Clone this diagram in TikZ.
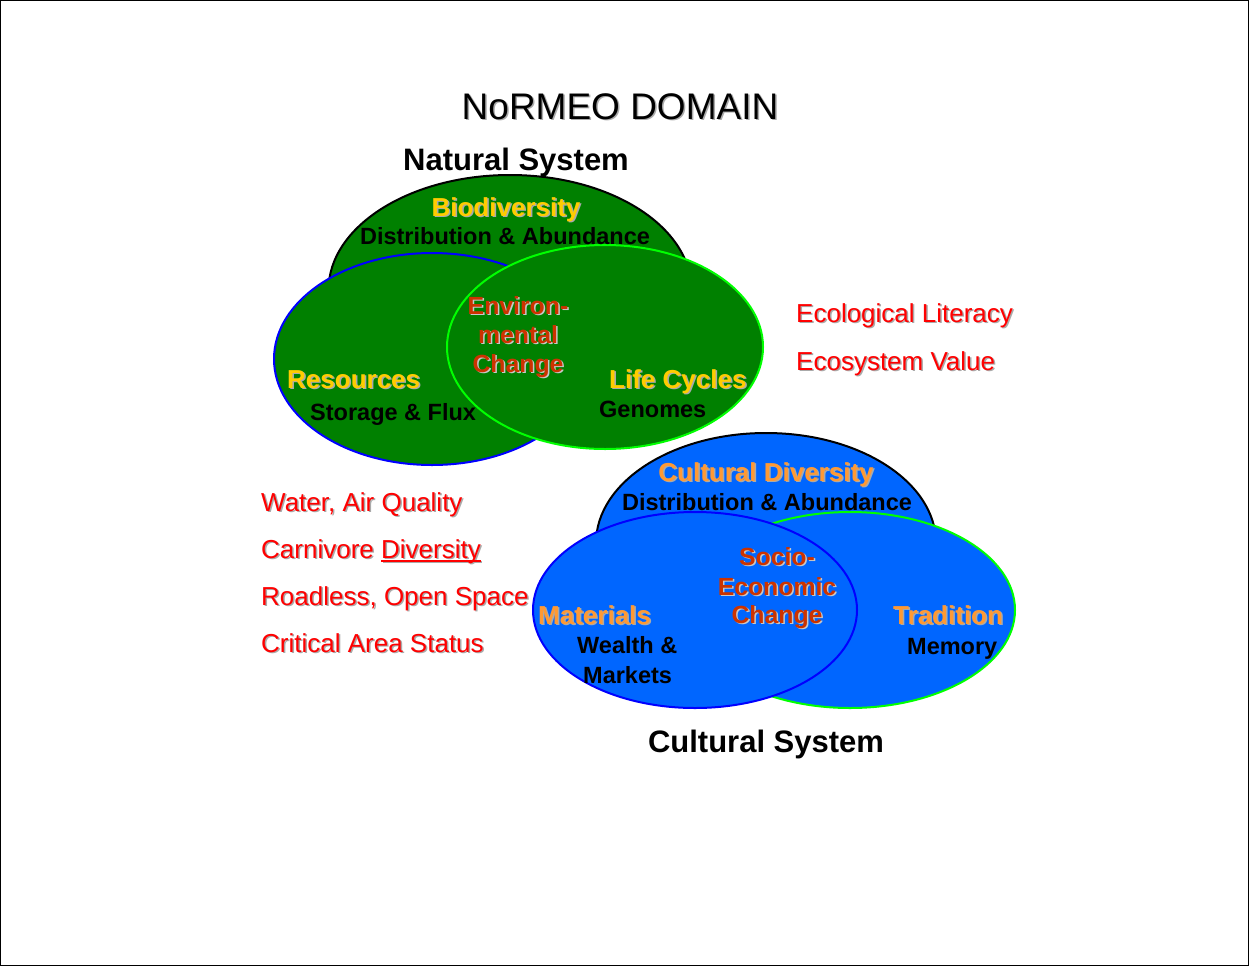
\documentclass[tikz,border=0pt]{standalone}
\usepackage{fontspec}
\setmainfont{Liberation Sans}
\usetikzlibrary{shapes.geometric}

\definecolor{natgreen}{RGB}{0,128,0}
\definecolor{culblue}{RGB}{0,102,255}
\definecolor{gold}{RGB}{255,204,0}
\definecolor{culorange}{RGB}{255,153,51}
\definecolor{changered}{RGB}{204,51,0}
\definecolor{listred}{RGB}{255,0,0}
\definecolor{limeline}{RGB}{0,255,0}
\definecolor{blueline}{RGB}{0,0,255}
\definecolor{shadowgray}{RGB}{170,170,170}
\definecolor{lightshadow}{RGB}{200,200,200}

% text with a soft drop shadow: name, position, style, text
\newcommand{\shadowtext}[4]{%
  \node[#3, text=shadowgray, xshift=1.5pt, yshift=-1.5pt] at #2 {#4};
  \node[#3] (#1) at #2 {#4};}
\newcommand{\lightshadowtext}[4]{%
  \node[#3, text=lightshadow, xshift=1.5pt, yshift=-1.5pt] at #2 {#4};
  \node[#3] (#1) at #2 {#4};}
% underlined word with a thicker rule
\newcommand{\thickul}[1]{\setbox0\hbox{#1}\rlap{\rule[-3.5pt]{\wd0}{1.8pt}}#1}

\begin{document}
\begin{tikzpicture}[x=1pt,y=-1pt,
  venn/.style={ellipse, draw, line width=2pt, inner sep=0pt},
  bigtitle/.style={anchor=base, inner sep=0pt, font=\fontsize{37}{40}\selectfont},
  systitle/.style={anchor=base, inner sep=0pt, font=\bfseries\fontsize{31}{34}\selectfont},
  head/.style={inner sep=0pt, font=\bfseries\fontsize{26}{30}\selectfont},
  sub/.style={inner sep=0pt, font=\bfseries\fontsize{23.5}{28}\selectfont},
  change/.style={anchor=base, inner sep=0pt, text=changered, font=\bfseries\fontsize{24.8}{29}\selectfont},
  redlist/.style={anchor=base west, inner sep=0pt, text=listred, font=\fontsize{26}{30}\selectfont}]

\useasboundingbox (0,0) rectangle (1249,966);
\draw[line width=1pt] (0.5,0.5) rectangle (1248.5,965.5);

% ---- Natural system ----
\node[venn, fill=natgreen, draw=black, minimum width=363pt, minimum height=230pt] (bio) at (510,290) {};
\node[venn, fill=natgreen, draw=blueline, minimum width=316pt, minimum height=212pt] (res) at (432,359) {};
\node[venn, fill=natgreen, draw=limeline, minimum width=316pt, minimum height=204pt] (life) at (605,347) {};

% ---- Cultural system ----
\node[venn, fill=culblue, draw=black, minimum width=340pt, minimum height=220pt] (cul) at (766,543) {};
\node[venn, fill=culblue, draw=limeline, minimum width=330pt, minimum height=196pt] (trad) at (850,610) {};
\node[venn, fill=culblue, draw=blueline, minimum width=324pt, minimum height=196pt] (mat) at (695,610) {};

% ---- Titles ----
\shadowtext{domain}{(620,119)}{bigtitle}{NoRMEO DOMAIN}
\node[systitle] (natsys) at (516,170) {Natural System};
\node[systitle] (culsys) at (766,752) {Cultural System};

% ---- Natural labels ----
\shadowtext{biohead}{(506,216)}{head, anchor=base, text=gold}{Biodiversity}
\node[sub, anchor=base] (biosub) at (505,244) {Distribution \& Abundance};
\lightshadowtext{env1}{(518,314)}{change}{Environ-}
\lightshadowtext{env2}{(518,343)}{change}{mental}
\lightshadowtext{env3}{(518,372)}{change}{Change}
\shadowtext{reshead}{(287,388)}{head, anchor=base west, text=gold}{Resources}
\node[sub, anchor=base west] (ressub) at (310,420) {Storage \& Flux};
\shadowtext{lifehead}{(609,388)}{head, anchor=base west, text=gold}{Life Cycles}
\node[sub, anchor=base west] (lifesub) at (599,417) {Genomes};

% ---- Cultural labels ----
\shadowtext{culhead}{(766,481)}{head, anchor=base, text=culorange}{Cultural Diversity}
\node[sub, anchor=base] (culsub) at (767,510) {Distribution \& Abundance};
\lightshadowtext{soc1}{(777,565)}{change}{Socio-}
\lightshadowtext{soc2}{(777,595)}{change}{Economic}
\lightshadowtext{soc3}{(777,623)}{change}{Change}
\shadowtext{mathead}{(538,624)}{head, anchor=base west, text=culorange}{Materials}
\node[sub, anchor=base west] (matsub1) at (577,653) {Wealth \&};
\node[sub, anchor=base west] (matsub2) at (583,683) {Markets};
\shadowtext{tradhead}{(893,624)}{head, anchor=base west, text=culorange}{Tradition}
\node[sub, anchor=base west] (tradsub) at (907,654) {Memory};

% ---- Indicators ----
\shadowtext{eco1}{(796,322)}{redlist}{Ecological Literacy}
\shadowtext{eco2}{(796,370)}{redlist}{Ecosystem Value}
\shadowtext{ind1}{(261,511)}{redlist}{Water, Air Quality}
\shadowtext{ind2}{(261,558)}{redlist}{Carnivore \thickul{Diversity}}
\shadowtext{ind3}{(261,605)}{redlist}{Roadless, Open Space}
\shadowtext{ind4}{(261,652)}{redlist}{Critical Area Status}
\end{tikzpicture}
\end{document}
